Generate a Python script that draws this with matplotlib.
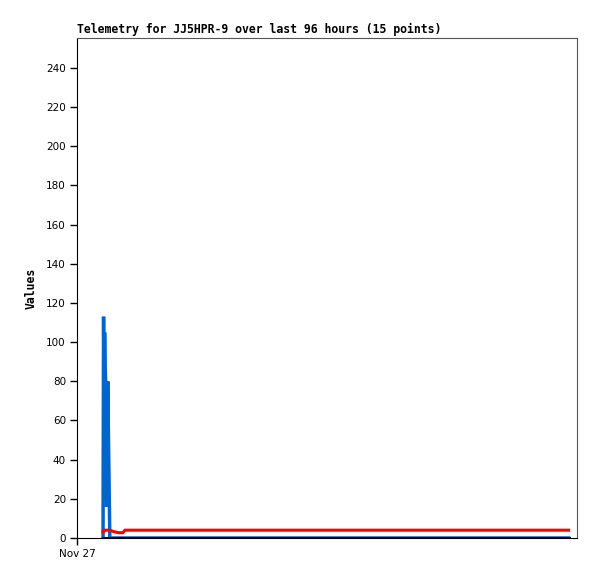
import matplotlib
matplotlib.use("Agg")
import matplotlib.pyplot as plt
import numpy as np

# hours since start of window (Nov 27 00:00)
hours = [5.0, 5.1, 5.2, 5.3, 5.4, 5.5, 5.7, 5.9, 6.1, 6.3, 7.0, 8.0, 8.8, 9.2, 94.4]
blue_vals = [0, 113, 72, 105, 88, 80, 16, 80, 40, 0, 0, 0, 0, 0, 0]
red_vals = [3.2, 3.2, 4, 4, 4, 4, 4, 4, 4, 4, 3.3, 2.7, 2.7, 4, 4]
black_vals = [0] * 15
title = "Telemetry for JJ5HPR-9 over last 96 hours (15 points)"
yticks = list(range(0, 241, 20))
xtick_labels = ["Nov 27"]

fig = plt.figure(figsize=(5.97, 5.79), dpi=100)
ax = fig.add_axes([77/597, 1-538/579, 500/597, 500/579])

ax.plot(hours, blue_vals, color="#0066cc", lw=2.5, solid_joinstyle="miter")
ax.plot(hours, red_vals, color="#ff0000", lw=2.2)
ax.plot(hours, black_vals, color="#000000", lw=2.2)

ax.set_xlim(0, 96)
ax.set_ylim(0, 255.3)
ax.set_yticks(yticks)
ax.set_yticklabels([str(v) for v in yticks], fontsize=7.5, family="DejaVu Sans")
ax.set_xticks([0])
ax.set_xticklabels(xtick_labels, fontsize=7.5, family="DejaVu Sans")
ax.tick_params(direction="out", length=5, width=1, color="black", pad=3)

for s in ["top", "right"]:
    ax.spines[s].set_color("#555555")
for s in ["left", "bottom"]:
    ax.spines[s].set_color("black")

ax.set_ylabel("Values", fontsize=8.3, family="DejaVu Sans Mono", fontweight="bold", labelpad=6)
fig.text(77/597, 1-33/579, title, fontsize=8.3, family="DejaVu Sans Mono", fontweight="bold",
         ha="left", va="baseline")

fig.savefig("out.png", dpi=100)
